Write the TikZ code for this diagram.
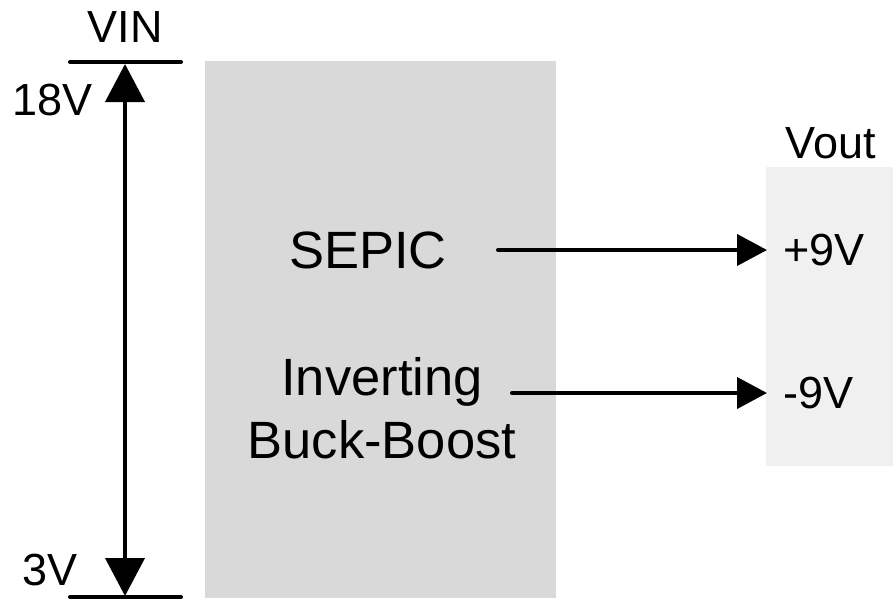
\documentclass[tikz,border=0pt]{standalone}
\usepackage{fontspec}
\setmainfont{Liberation Sans}
\usetikzlibrary{arrows.meta}
\definecolor{blockgray}{HTML}{D9D9D9}
\definecolor{outgray}{HTML}{F0F0F0}

\begin{document}
\begin{tikzpicture}[x=1pt, y=-1pt]
	\tikzset{
		label text/.style={
			anchor=base west,
			inner sep=0pt,
			font=\fontsize{45}{54}\selectfont
		},
		block text/.style={
			anchor=base,
			inner sep=0pt,
			font=\fontsize{52.5}{63}\selectfont
		},
		wire/.style={line width=4pt, line cap=round},
		range arrow/.style={{Triangle[length=38pt, width=39pt]}-{Triangle[length=38pt, width=39pt]}},
		out arrow/.style={-{Triangle[length=30pt, width=31pt]}, shorten >=16pt},
	}
	\useasboundingbox (0,0) rectangle (893,598);

	% converter block and output column
	\fill[blockgray] (205,61) rectangle (556,598);
	\fill[outgray] (766,167) rectangle (893,466);

	% input range
	\node[label text, anchor=base] (vin) at (125,42) {VIN};
	\node[label text] (vmax) at (12,115) {18V};
	\node[label text] (vmin) at (22,585) {3V};
	\coordinate (bar tl) at (70,62);
	\coordinate (bar tr) at (181,62);
	\coordinate (bar bl) at (70,597);
	\coordinate (bar br) at (181,597);
	\coordinate (vin top) at (125,62);
	\coordinate (vin bot) at (125,597);
	\draw[wire] (bar tl) -- (bar tr);
	\draw[wire] (bar bl) -- (bar br);
	\draw[wire, range arrow, shorten <=2pt, shorten >=1pt] (vin top) -- (vin bot);

	% topologies
	\node[block text] (sepic) at (368,268) {SEPIC};
	\node[block text] (inv) at (382,395) {Inverting};
	\node[block text] (bb) at (382,458) {Buck-Boost};

	% outputs
	\node[label text, anchor=base] (vout) at (831,158) {Vout};
	\node[label text] (p9) at (783,265) {+9V};
	\node[label text] (m9) at (783,408) {-9V};
	\coordinate (sepic out) at (498,250);
	\coordinate (inv out) at (512,393);
	\draw[wire, out arrow] (sepic out) -- (sepic out -| p9.west);
	\draw[wire, out arrow] (inv out) -- (inv out -| m9.west);
\end{tikzpicture}
\end{document}
